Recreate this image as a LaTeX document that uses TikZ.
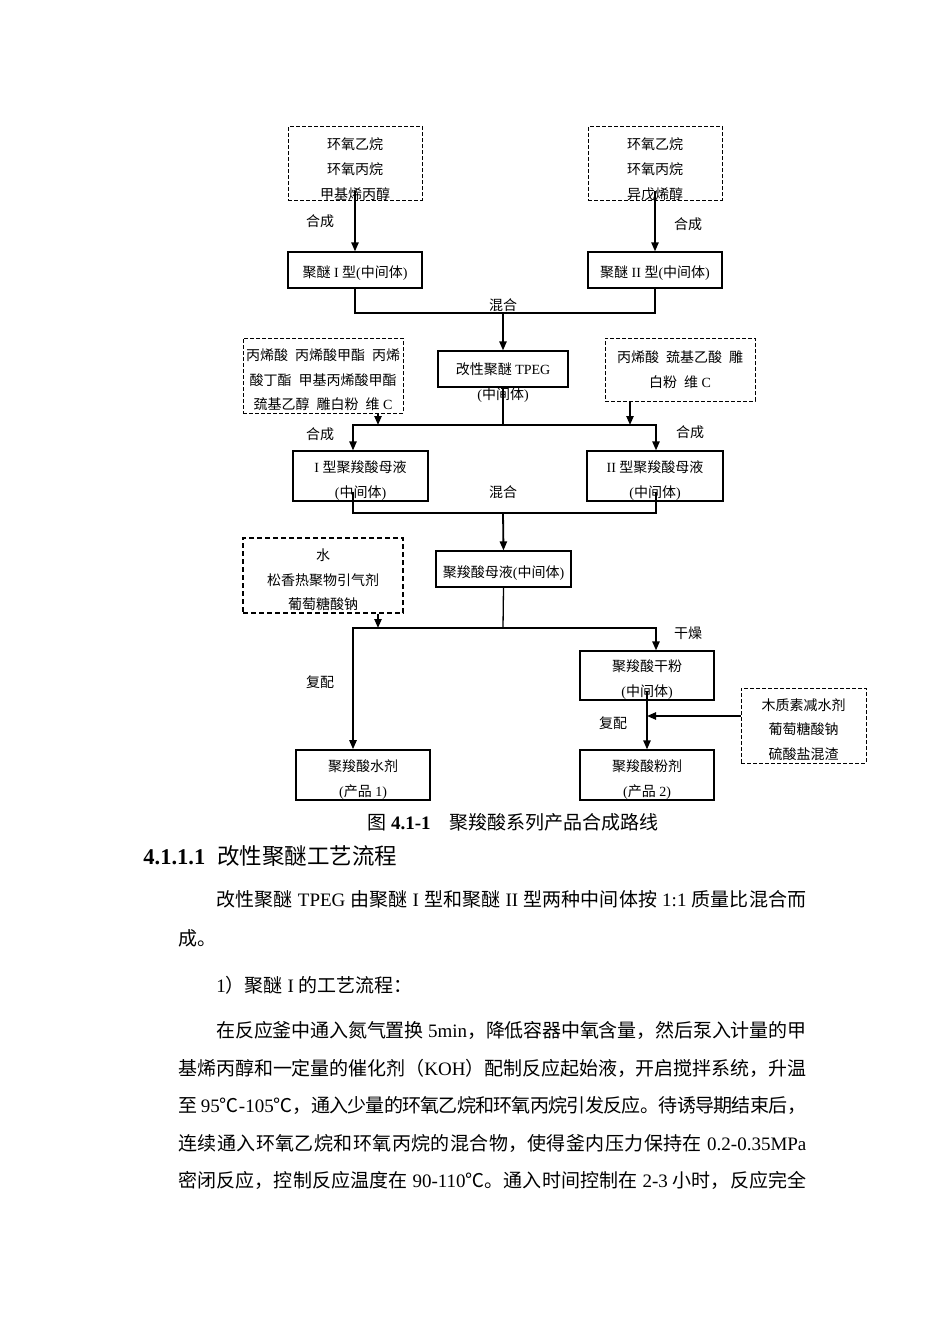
\documentclass[tikz,border=0pt]{standalone}
\usepackage{fontspec}
\setmainfont{Liberation Serif}
\newfontfamily\cjkfont{Noto Sans CJK SC}
\usetikzlibrary{arrows.meta}

% CJK runs switch to the CJK family
\XeTeXinterchartokenstate=1
\newXeTeXintercharclass\cjkclass
\makeatletter
\count@="3000
\loop
  \XeTeXcharclass\count@=\cjkclass
  \ifnum\count@<"9FFF \advance\count@\@ne
\repeat
\count@="FF00
\loop
  \XeTeXcharclass\count@=\cjkclass
  \ifnum\count@<"FFEF \advance\count@\@ne
\repeat
\makeatother
\XeTeXcharclass"2103=\cjkclass
\XeTeXinterchartoks 0 \cjkclass = {\begingroup\cjkfont}
\XeTeXinterchartoks 4095 \cjkclass = {\begingroup\cjkfont}
\XeTeXinterchartoks \cjkclass 0 = {\endgroup}
\XeTeXinterchartoks \cjkclass 4095 = {\endgroup}

\newcommand\diagsize{\fontsize{7}{12.3}\selectfont}
\newcommand\bodysize{\fontsize{9.5}{12}\selectfont}
\newcommand\lift[1]{\rule{0pt}{#1}}
\newcommand\bodyline[2]{\parbox{#1}{\XeTeXlinebreaklocale "zh"\XeTeXlinebreakskip=0pt plus 1pt minus 0.5pt\parfillskip=0pt\relax #2}}

\tikzset{
  stage/.style={draw, line width=0.6pt, minimum width=67pt, minimum height=18pt,
    inner sep=0pt, align=center, font=\diagsize},
  feed/.style={stage, line width=0.45pt, dash pattern=on 2pt off 1pt},
  flow/.style={-{Triangle[length=4.5pt,width=3.6pt]}, line width=0.9pt},
  mixline/.style={line width=0.65pt},
  tag/.style={inner sep=0pt, font=\diagsize},
  body/.style={inner sep=0pt, anchor=west, font=\bodysize},
}

\begin{document}
\begin{tikzpicture}[x=0.5pt,y=-0.5pt]
\path[use as bounding box, fill=white] (0,0) rectangle (950,1344);

% raw materials and polyethers
\node[feed, minimum height=36.5pt] (eoA) at (355,163.5) {\lift{11.6pt}环氧乙烷\\环氧丙烷\\甲基烯丙醇};
\node[feed, minimum height=36.5pt] (eoB) at (655,163.5) {\lift{11.6pt}环氧乙烷\\环氧丙烷\\异戊烯醇};
\node[stage] (polyA) at (355,270) {\lift{8.8pt}聚醚 I 型(中间体)};
\node[stage] (polyB) at (655,270) {\lift{8.8pt}聚醚 II 型(中间体)};
\node[stage, minimum width=65pt, label={[tag, name=tpegsub]below:(中间体)}] (tpeg) at (503,369) {改性聚醚 TPEG};
\node[feed, minimum width=80pt, minimum height=37.5pt] (addA) at (323,375.5)
  {\lift{10.2pt}丙烯酸\enspace 丙烯酸甲酯\enspace 丙烯\\酸丁酯\enspace 甲基丙烯酸甲酯\\巯基乙醇\enspace 雕白粉\enspace 维 C};
\node[feed, minimum width=75pt, minimum height=31.5pt] (addB) at (680,369.5)
  {丙烯酸\enspace 巯基乙酸\enspace 雕\\白粉\enspace 维 C};

% mother liquors
\node[stage, minimum width=67.5pt, minimum height=25pt] (liqA) at (360.5,476) {\lift{10.3pt}I 型聚羧酸母液\\(中间体)};
\node[stage, minimum width=68pt, minimum height=25pt] (liqB) at (655,476) {\lift{10.3pt}II 型聚羧酸母液\\(中间体)};
\node[stage, minimum width=67.5pt] (mother) at (503.5,569) {\lift{9.8pt}聚羧酸母液(中间体)};
\node[feed, minimum width=80pt, minimum height=37.5pt, line width=0.9pt, dash pattern=on 2.6pt off 1.4pt] (water) at (323,575.5)
  {\lift{10.2pt}水\\松香热聚物引气剂\\葡萄糖酸钠};

% products
\node[stage, minimum height=24.5pt] (dry) at (647,675.5) {\lift{9.8pt}聚羧酸干粉\\(中间体)};
\node[feed, minimum width=62.5pt, minimum height=37.5pt] (lignin) at (803.5,725.5)
  {\lift{9.7pt}木质素减水剂\\葡萄糖酸钠\\硫酸盐混渣};
\node[stage, minimum height=25pt, line width=0.8pt] (prodA) at (363,775) {\lift{10.3pt}聚羧酸水剂\\(产品 1)};
\node[stage, minimum height=25pt] (prodB) at (647,775) {\lift{10.3pt}聚羧酸粉剂\\(产品 2)};

% step labels
\node[tag] (synA) at (320,221) {合成};
\node[tag] (synB) at (688,224) {合成};
\node[tag] (mixA) at (503,305) {混合};
\node[tag] (synC) at (320,434) {合成};
\node[tag] (synD) at (690,432) {合成};
\node[tag] (mixB) at (503,492) {混合};
\node[tag] (dryT) at (688,633) {干燥};
\node[tag] (blendA) at (320,682) {复配};
\node[tag] (blendB) at (613,723) {复配};

% junctions
\coordinate (colA) at (353,0);
\coordinate (colB) at (656,0);
\coordinate (join1) at (503,313);
\coordinate (join2) at (503,425);
\coordinate (join3) at (503,513);
\coordinate (join4) at (503,628);
\coordinate (tipA) at (378,425);
\coordinate (tipB) at (630,425);
\coordinate (tipW) at (378,628);
\coordinate (tipL) at (647,716);

\draw[flow] ([yshift=5pt]eoA.south) -- (polyA.north);
\draw[flow] ([yshift=5pt]eoB.south) -- (polyB.north);
\draw[mixline] (polyA.south) |- (join1) -| (polyB.south);
\draw[flow] (join1) -- (tpeg.north);
\draw[mixline] (tpeg.south) -- (join2);
\draw[flow] (join2) -| (liqA.north -| colA);
\draw[flow] (join2) -| (liqB.north -| colB);
\draw[flow] (addA.south -| tipA) -- (tipA);
\draw[flow] (addB.south -| tipB) -- (tipB);
\draw[mixline] ([yshift=5pt]liqA.south -| colA) |- (join3) -| ([yshift=5pt]liqB.south -| colB);
\draw[flow] (join3) -- (mother.north);
\draw[mixline] (mother.south) -- (join4);
\draw[flow] (join4) -| (prodA.north -| colA);
\draw[flow] (join4) -| (dry.north -| colB);
\draw[flow] (water.south -| tipW) -- (tipW);
\draw[flow] ([yshift=5pt]dry.south) -- (prodB.north);
\draw[flow] (lignin.west |- tipL) -- (tipL);

% caption and text
\node[font=\bodysize, inner sep=0pt] (caption) at (513,822) {图 \textbf{4.1-1}\quad 聚羧酸系列产品合成路线};
\node[body, font=\fontsize{11.25}{13}\selectfont] (heading) at (143,856) {\textbf{4.1.1.1}\hspace{6pt}改性聚醚工艺流程};
\node[body] (line1) at (216,899) {\bodyline{295pt}{改性聚醚 TPEG 由聚醚 I 型和聚醚 II 型两种中间体按 1:1 质量比混合而}};
\node[body] (line2) at (178,938) {成。};
\node[body] (line3) at (216,985) {1）聚醚 I 的工艺流程：};
\node[body] (line4) at (216,1030) {\bodyline{295pt}{在反应釜中通入氮气置换 5min，降低容器中氧含量，然后泵入计量的甲}};
\node[body] (line5) at (178,1068) {\bodyline{314pt}{基烯丙醇和一定量的催化剂（KOH）配制反应起始液，开启搅拌系统，升温}};
\node[body] (line6) at (178,1105) {\bodyline{314pt}{至 95℃-105℃，通入少量的环氧乙烷和环氧丙烷引发反应。待诱导期结束后，}};
\node[body] (line7) at (178,1143) {\bodyline{314pt}{连续通入环氧乙烷和环氧丙烷的混合物，使得釜内压力保持在 0.2-0.35MPa}};
\node[body] (line8) at (178,1180) {\bodyline{314pt}{密闭反应，控制反应温度在 90-110℃。通入时间控制在 2-3 小时，反应完全}};
\end{tikzpicture}
\end{document}
